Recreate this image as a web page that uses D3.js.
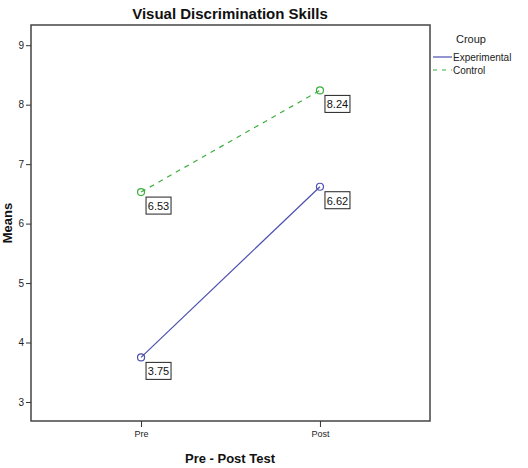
<!DOCTYPE html>
<html>
<head>
<meta charset="utf-8">
<script src="https://cdn.jsdelivr.net/npm/d3@7"></script>
<style>
body{margin:0;background:#fff;}
svg{font-family:Arial,"Liberation Sans",sans-serif;}
</style>
</head>
<body>
<div id="chart"></div>
<script>
var w=528, h=468;
var frame={left:31, right:430, top:25, bottom:421};

//Data
var tests=["Pre","Post"];
var groups=["Experimental","Control"];
var experimental=[3.75,6.62];
var control=[6.53,8.24];
var yTicks=[3,4,5,6,7,8,9];
var colors={"Experimental":"#4b4fae","Control":"#3dae3d"};

var series=[
  {name:"Experimental", values:experimental},
  {name:"Control", values:control}
];

var svg=d3.select("#chart")
          .append("svg")
          .attr("width",w)
          .attr("height",h);

//Scales
var xScale=d3.scalePoint()
             .domain(tests)
             .range([frame.left,frame.right])
             .padding(0.615);
var yScale=d3.scaleLinear()
             .domain([2.68,9.34])
             .range([frame.bottom,frame.top]);

//Frame
svg.append("rect")
   .attr("x",frame.left)
   .attr("y",frame.top)
   .attr("width",frame.right-frame.left)
   .attr("height",frame.bottom-frame.top)
   .style("fill","none")
   .style("stroke","#444")
   .style("stroke-width",1.5);

//Axes
var yAxis=d3.axisLeft(yScale).tickValues(yTicks).tickFormat(d3.format("d")).tickSize(5).tickPadding(2);
var gy=svg.append("g")
   .attr("transform","translate("+frame.left+",0)")
   .call(yAxis);
gy.select(".domain").remove();
gy.selectAll("line").style("stroke","#333");
gy.selectAll("text").style("font-size","10px").style("fill","#222");

var xAxis=d3.axisBottom(xScale).tickSize(6).tickPadding(4);
var gx=svg.append("g")
   .attr("transform","translate(0,"+frame.bottom+")")
   .call(xAxis);
gx.select(".domain").remove();
gx.selectAll("line").style("stroke","#333");
gx.selectAll("text").style("font-size","9px").style("fill","#222");

//Titles
svg.append("text")
   .attr("x",230)
   .attr("y",19)
   .attr("text-anchor","middle")
   .style("font-size","15px")
   .style("font-weight","bold")
   .style("fill","#111")
   .text("Visual Discrimination Skills");

svg.append("text")
   .attr("x",230)
   .attr("y",463)
   .attr("text-anchor","middle")
   .style("font-size","13px")
   .style("font-weight","bold")
   .style("fill","#111")
   .text("Pre - Post Test");

svg.append("text")
   .attr("transform","translate(12,"+((frame.top+frame.bottom)/2)+")rotate(-90)")
   .attr("text-anchor","middle")
   .style("font-size","13px")
   .style("font-weight","bold")
   .style("fill","#111")
   .text("Means");

//Lines
var line=d3.line()
           .x(function(d,i){return xScale(tests[i]);})
           .y(function(d){return yScale(d);});

var g=svg.selectAll(".series")
         .data(series)
         .enter()
         .append("g")
         .attr("class","series");

g.append("path")
 .attr("d",function(d){return line(d.values);})
 .style("fill","none")
 .style("stroke",function(d){return colors[d.name];})
 .style("stroke-width",1.2)
 .style("stroke-dasharray",function(d){return d.name=="Control"?"5,5":null;});

g.selectAll("circle")
 .data(function(d){return d.values.map(function(v,i){return {name:d.name,v:v,i:i};});})
 .enter()
 .append("circle")
 .attr("cx",function(d){return xScale(tests[d.i]);})
 .attr("cy",function(d){return yScale(d.v);})
 .attr("r",3.5)
 .style("fill","none")
 .style("stroke",function(d){return colors[d.name];})
 .style("stroke-width",1.2);

//Value labels
var lab=g.selectAll(".lab")
 .data(function(d){return d.values.map(function(v,i){return {name:d.name,v:v,i:i};});})
 .enter()
 .append("g")
 .attr("class","lab")
 .attr("transform",function(d){return "translate("+(xScale(tests[d.i])+5)+","+(yScale(d.v)+5)+")";});
lab.append("rect")
   .attr("width",25)
   .attr("height",17)
   .style("fill","#fff")
   .style("stroke","#222")
   .style("stroke-width",1);
lab.append("text")
   .attr("x",12.5)
   .attr("y",13)
   .attr("text-anchor","middle")
   .style("font-size","11px")
   .style("fill","#111")
   .text(function(d){return d.v.toFixed(2);});

//Legend
svg.append("text")
   .attr("x",456)
   .attr("y",43)
   .style("font-size","11px")
   .style("fill","#222")
   .text("Croup");
var leg=svg.selectAll(".leg")
   .data(groups)
   .enter()
   .append("g")
   .attr("class","leg")
   .attr("transform",function(d,i){return "translate(433,"+(57+i*13)+")";});
leg.append("line")
   .attr("x1",0).attr("x2",19)
   .style("stroke",function(d){return colors[d];})
   .style("stroke-width",1.2)
   .style("stroke-dasharray",function(d){return d=="Control"?"4,5":null;});
leg.append("text")
   .attr("x",20)
   .attr("y",4)
   .style("font-size","10px")
   .style("fill","#222")
   .text(function(d){return d;});
</script>
</body>
</html>
